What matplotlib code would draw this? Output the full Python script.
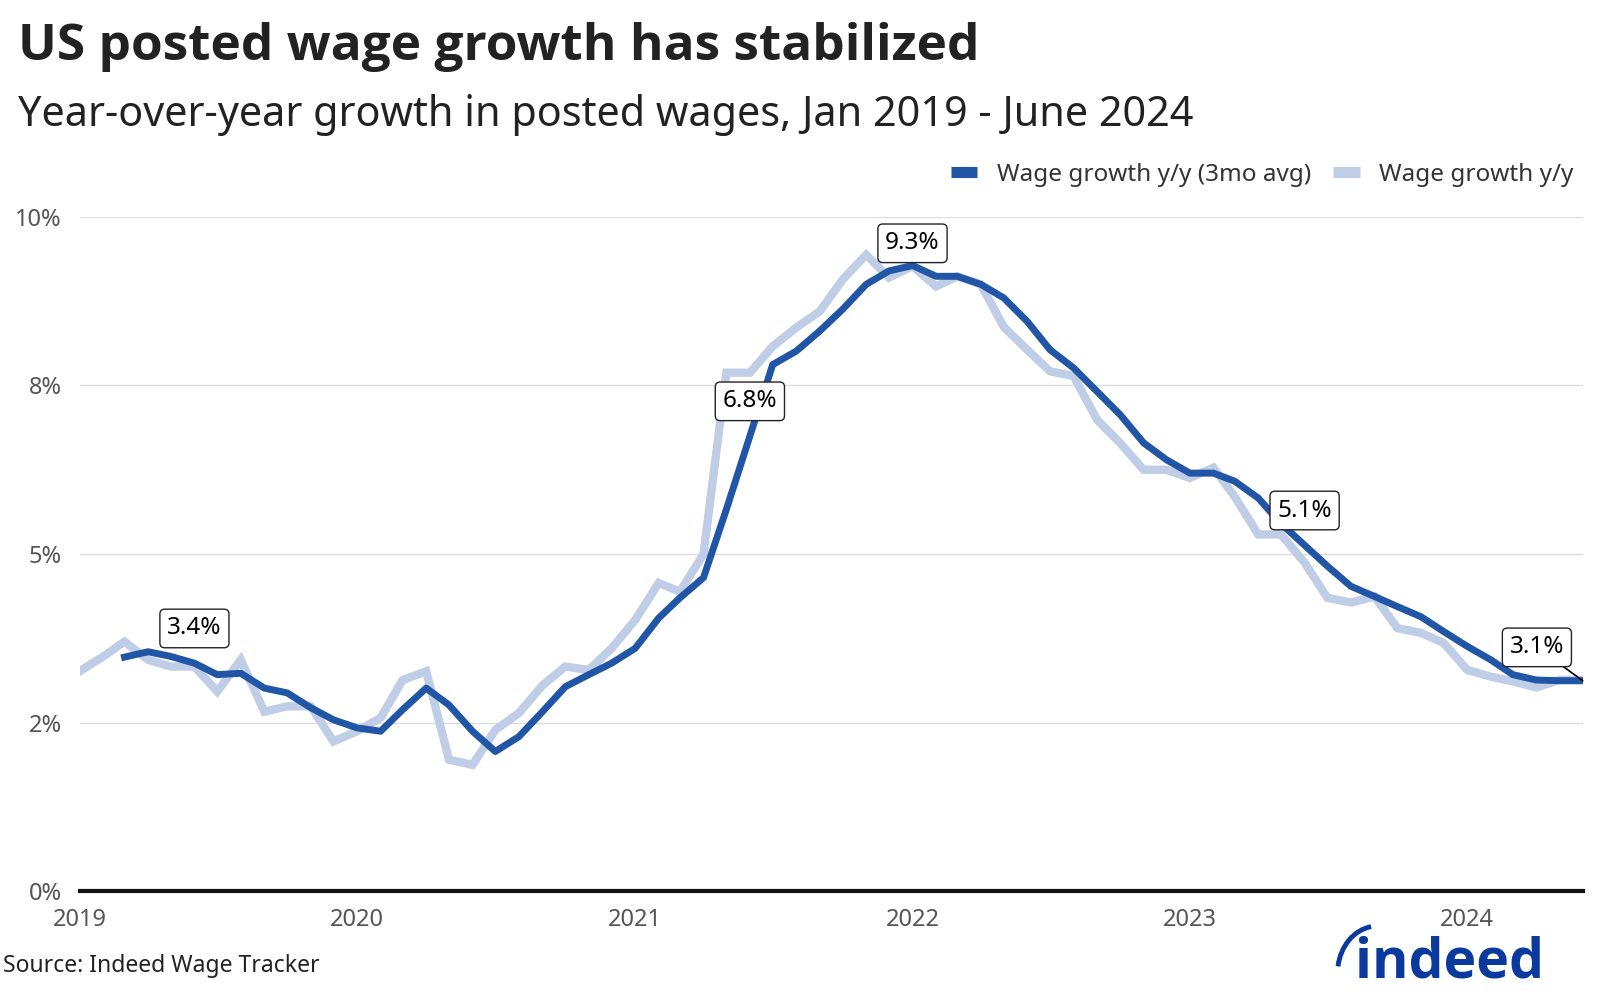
import numpy as np
import pandas as pd
import matplotlib
matplotlib.use("Agg")
import matplotlib.pyplot as plt
from matplotlib.lines import Line2D
from matplotlib.patches import Arc

plt.rcParams['font.family'] = ['Noto Sans', 'DejaVu Sans']

# monthly data, Jan 2019 - Jun 2024
months = pd.date_range('2019-01-01', '2024-06-01', freq='MS')

wage_yy = [3.26, 3.48, 3.70, 3.43, 3.33, 3.33, 2.96, 3.43, 2.66, 2.74, 2.74, 2.22,
           2.37, 2.57, 3.13, 3.26, 1.95, 1.87, 2.39, 2.64, 3.05, 3.33, 3.28, 3.60,
           4.02, 4.57, 4.44, 5.00, 7.69, 7.69, 8.08, 8.36, 8.60, 9.07, 9.44, 9.10,
           9.27, 8.97, 9.12, 9.00, 8.37, 8.03, 7.71, 7.64, 6.99, 6.65, 6.25, 6.25,
           6.13, 6.28, 5.85, 5.29, 5.29, 4.87, 4.35, 4.28, 4.37, 3.90, 3.83, 3.68,
           3.28, 3.18, 3.11, 3.02, 3.13, 3.13]

wage_3mo = [np.nan, np.nan, 3.47, 3.55, 3.48, 3.38, 3.21, 3.23, 3.01, 2.94, 2.72, 2.54,
            2.42, 2.37, 2.69, 3.01, 2.76, 2.37, 2.07, 2.29, 2.66, 3.03, 3.21, 3.38,
            3.60, 4.05, 4.35, 4.65, 5.66, 6.75, 7.81, 8.01, 8.31, 8.63, 9.00, 9.20,
            9.28, 9.12, 9.12, 9.00, 8.80, 8.45, 8.03, 7.76, 7.41, 7.07, 6.65, 6.40,
            6.20, 6.20, 6.08, 5.83, 5.45, 5.13, 4.82, 4.52, 4.37, 4.22, 4.07, 3.85,
            3.63, 3.43, 3.21, 3.13, 3.12, 3.12]

# labelled points: (date, text)
label_dates = ['2019-06-01', '2021-06-01', '2022-01-01', '2023-06-01', '2024-06-01']
label_texts = ['3.4%', '6.8%', '9.3%', '5.1%', '3.1%']

y_ticks = [0, 2.5, 5, 7.5, 10]
y_tick_labels = ['0%', '2%', '5%', '8%', '10%']
year_ticks = ['2019', '2020', '2021', '2022', '2023', '2024']

dark = '#2155A5'
light = '#BFCEE6'

fig = plt.figure(figsize=(16, 10), dpi=100)
ax = fig.add_axes([0.0498, 0.109, 0.9394, 0.674])

ax.plot(months, wage_yy, color=light, lw=6, solid_joinstyle='miter', zorder=2)
ax.plot(months, wage_3mo, color=dark, lw=5, solid_joinstyle='round', zorder=3)

ax.set_xlim(months[0], months[-1])
ax.set_ylim(0, 10)
ax.set_yticks(y_ticks)
ax.set_yticklabels(y_tick_labels)
ax.set_xticks(pd.to_datetime([y + '-01-01' for y in year_ticks]))
ax.set_xticklabels(year_ticks)
ax.tick_params(axis='both', length=0, labelsize=17, colors='#555555')
ax.tick_params(axis='y', pad=13)
ax.tick_params(axis='x', pad=12)
ax.grid(axis='y', color='#dddddd', lw=1)
ax.set_axisbelow(True)
for s in ['top', 'right', 'left', 'bottom']:
    ax.spines[s].set_visible(False)
ax.axhline(0, color='#111111', lw=3, zorder=4, clip_on=False)

series = pd.Series(wage_3mo, index=months)
for d, t in zip(label_dates, label_texts):
    d = pd.Timestamp(d)
    v = series[d]
    bbox = dict(boxstyle='round,pad=0.3,rounding_size=0.2', fc='white', ec='#222222', lw=1)
    if d == months[-1]:
        ax.annotate(t, xy=(d, v), xytext=(-33, 24), textcoords='offset points',
                    ha='center', va='center', fontsize=17.5, bbox=bbox, zorder=6,
                    arrowprops=dict(arrowstyle='-', color='black', lw=1.2, shrinkA=0, shrinkB=0))
    elif d == pd.Timestamp('2022-01-01'):
        ax.annotate(t, xy=(d, v), xytext=(0, 16), textcoords='offset points',
                    ha='center', va='center', fontsize=17.5, bbox=bbox, zorder=6)
    else:
        ax.annotate(t, xy=(d, v), xytext=(0, 25), textcoords='offset points',
                    ha='center', va='center', fontsize=17.5, bbox=bbox, zorder=6)

fig.text(0.011, 0.953, 'US posted wage growth has stabilized', fontsize=37,
         fontweight='bold', family=['Open Sans', 'DejaVu Sans'], color='#222222', va='center')
fig.text(0.011, 0.885, 'Year-over-year growth in posted wages, Jan 2019 - June 2024',
         fontsize=29.8, color='#222222', va='center')

handles = [Line2D([0], [0], color=dark, lw=8, solid_capstyle='butt'),
           Line2D([0], [0], color=light, lw=8, solid_capstyle='butt')]
fig.legend(handles, ['Wage growth y/y (3mo avg)', 'Wage growth y/y'], ncol=2,
           loc='center right', bbox_to_anchor=(0.997, 0.825), frameon=False,
           fontsize=17.5, handlelength=1.1, handletextpad=0.8, columnspacing=0.9,
           labelcolor='#333333')

fig.text(0.002, 0.034, 'Source: Indeed Wage Tracker', fontsize=16.5, color='#222222',
         va='center')

# indeed logo
fig.text(0.965, 0.022, 'indeed', fontsize=40, fontweight='bold',
         family=['Open Sans', 'DejaVu Sans'], color='#0A3A9E', ha='right', va='baseline')
fig.add_artist(Arc((0.861, 0.027), 0.05, 0.094, theta1=95, theta2=165,
                   transform=fig.transFigure, color='#0A3A9E', lw=3.5))

fig.savefig('out.png', dpi=100)
